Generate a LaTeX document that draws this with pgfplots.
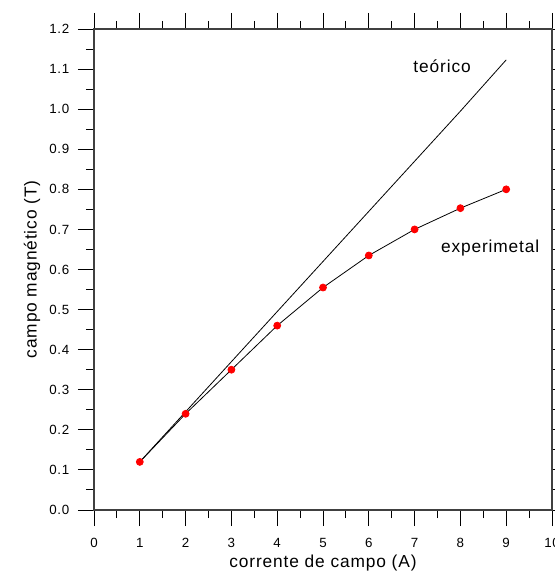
\documentclass[border=0pt]{standalone}
\usepackage{pgfplots}
\pgfplotsset{compat=1.18}
\usepackage{fontspec}
\setmainfont[LetterSpace=5]{Liberation Sans}
\begin{document}
\begin{tikzpicture}
  \begin{axis}[
      scale only axis,
      width=343.5pt,
      height=360.75pt,
      xmin=0, xmax=10,
      ymin=0, ymax=1.2,
      xtick={0,1,...,10},
      ytick={0,0.1,...,1.2},
      minor x tick num=1,
      minor y tick num=1,
      tick align=outside,
      major tick length=12pt,
      minor tick length=6pt,
      every tick/.style={black, line width=0.7pt},
      axis line style={black!75, line width=0.8pt},
      ticklabel style={font=\fontsize{10}{12}\selectfont},
      xticklabel shift=5.6pt,
      yticklabel shift=3pt,
      /pgf/number format/assume math mode=true,
      yticklabel style={/pgf/number format/.cd, fixed, fixed zerofill, precision=1},
      xlabel={corrente de campo (A)},
      ylabel={campo magnético (T)},
      label style={font=\fontsize{13}{15}\selectfont},
      xlabel style={at={(axis description cs:0.5,-0.110)}, anchor=center},
      ylabel style={at={(axis description cs:-0.1354,0.5)}, anchor=center},
      clip=false,
    ]
    % teórico
    \addplot[black, line width=0.6pt] coordinates {
      (1,0.12) (2,0.245) (3,0.37) (4,0.495) (5,0.62)
      (6,0.745) (7,0.87) (8,0.995) (9,1.123)
    };
    % experimental
    \addplot[black, line width=0.6pt, mark=*, mark size=2.6pt,
             mark options={draw=red, fill=red}] coordinates {
      (1,0.12) (2,0.24) (3,0.35) (4,0.46) (5,0.555)
      (6,0.635) (7,0.70) (8,0.753) (9,0.80)
    };
    \node[font=\fontsize{13}{15}\selectfont] at (axis cs:7.6,1.108) {teórico};
    \node[font=\fontsize{13}{15}\selectfont] at (axis cs:8.65,0.653) {experimetal};
    \coordinate (sw) at (rel axis cs:0,0);
    \coordinate (ne) at (rel axis cs:1,1);
  \end{axis}
  \pgfresetboundingbox
  \useasboundingbox ([shift={(-70.5pt,-48pt)}]sw) rectangle ([shift={(2.25pt,21.75pt)}]ne);
\end{tikzpicture}
\end{document}
